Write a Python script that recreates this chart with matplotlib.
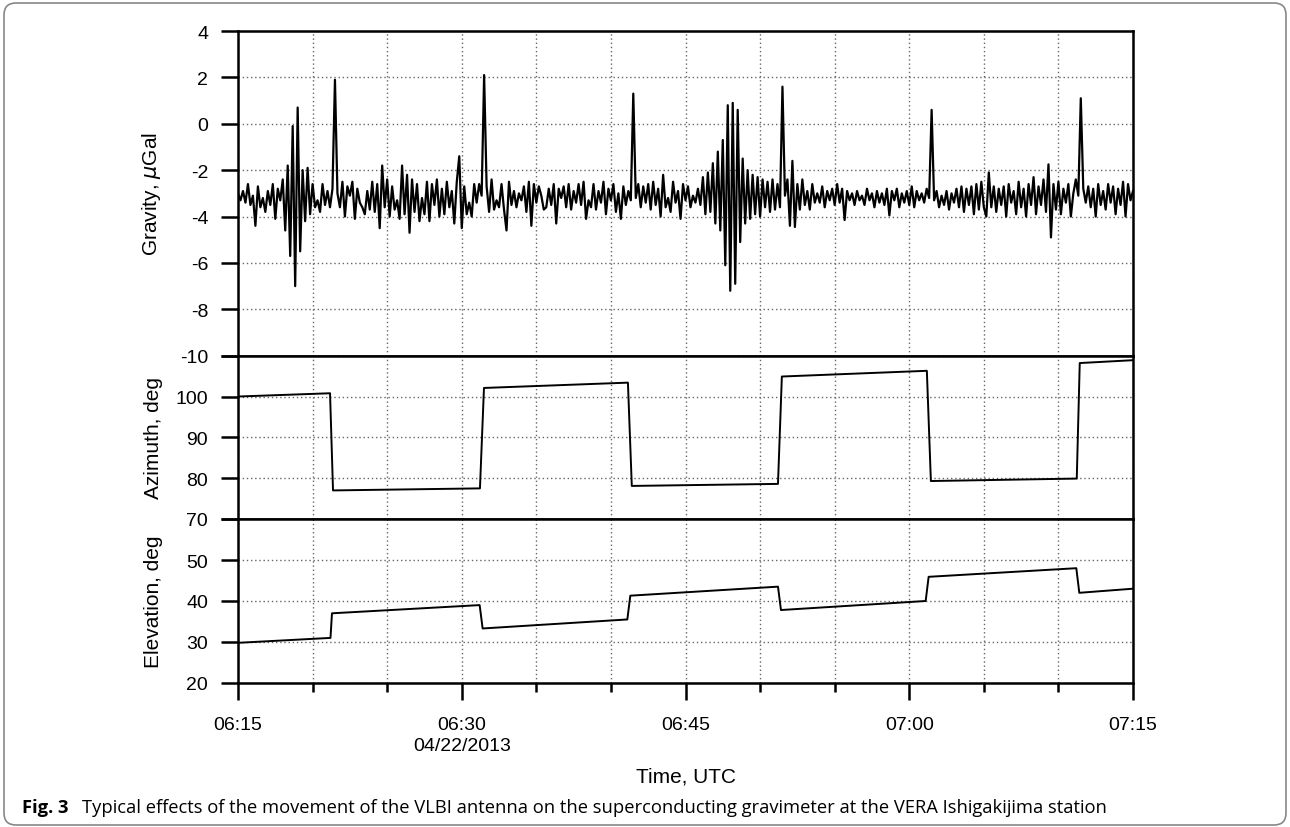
import matplotlib
matplotlib.use("Agg")
import matplotlib.pyplot as plt
import numpy as np
from matplotlib.patches import FancyBboxPatch
from matplotlib.transforms import IdentityTransform

# gravity residual, one value every 10 s from 06:15 (uGal)
gravity = [
    -3.0, -3.3, -2.9, -3.4, -2.6, -3.5,
    -3.1, -4.4, -2.7, -3.6, -3.2, -3.8,
    -2.9, -3.5, -2.6, -4.1, -2.8, -3.3,
    -2.4, -4.6, -1.8, -5.7, -0.1, -7.0,
    0.7, -5.5, -2.0, -4.2, -1.9, -3.9,
    -2.6, -3.6, -3.3, -3.8, -2.6, -3.5,
    -2.9, -3.6, -2.8, 1.9, -3.0, -3.6,
    -2.5, -4.0, -2.7, -3.1, -2.5, -4.1,
    -2.8, -3.4, -3.6, -3.9, -2.9, -3.7,
    -2.5, -3.8, -2.6, -4.5, -1.8, -3.6,
    -2.4, -4.0, -2.7, -3.7, -3.3, -4.1,
    -1.8, -3.9, -2.2, -4.7, -2.4, -3.8,
    -2.6, -4.2, -3.2, -3.9, -2.5, -4.2,
    -2.6, -3.5, -2.4, -4.0, -2.8, -3.9,
    -2.5, -3.6, -2.9, -4.3, -2.5, -1.4,
    -4.5, -2.7, -3.9, -3.4, -4.0, -2.6,
    -3.4, -2.6, -3.1, 2.1, -2.7, -3.8,
    -2.4, -3.7, -3.3, -3.6, -2.6, -3.7,
    -4.6, -2.5, -3.5, -2.9, -3.6, -3.0,
    -3.3, -2.7, -3.8, -2.5, -4.4, -2.6,
    -3.4, -2.7, -3.1, -3.7, -3.6, -2.8,
    -3.5, -2.6, -4.3, -2.8, -3.2, -2.7,
    -3.6, -2.6, -3.7, -2.9, -3.4, -2.6,
    -3.5, -2.5, -4.1, -3.3, -3.6, -2.6,
    -3.7, -2.9, -3.4, -2.5, -3.9, -2.8,
    -3.3, -2.6, -3.8, -3.0, -4.1, -2.7,
    -3.5, -2.9, -3.3, 1.3, -3.2, -2.6,
    -3.6, -2.7, -3.4, -2.6, -3.7, -2.5,
    -3.5, -2.8, -4.0, -2.2, -3.6, -3.2,
    -3.8, -2.5, -3.4, -2.9, -4.1, -2.6,
    -3.3, -2.7, -3.6, -3.1, -3.4, -2.8,
    -3.5, -2.3, -3.9, -2.1, -3.8, -1.7,
    -4.3, -1.2, -4.6, -0.7, -6.1, 0.8,
    -7.2, 0.9, -6.9, 0.6, -5.1, -1.5,
    -4.3, -2.0, -4.1, -2.2, -3.9, -2.3,
    -4.0, -2.4, -3.6, -2.5, -3.8, -2.4,
    -3.7, -2.6, -3.6, 1.6, -3.1, -2.4,
    -4.4, -1.6, -4.45, -2.6, -3.7, -2.4,
    -3.5, -2.9, -3.7, -2.6, -3.4, -3.0,
    -3.4, -2.7, -3.6, -2.9, -3.3, -2.8,
    -3.5, -2.6, -3.4, -2.8, -4.15, -2.9,
    -3.3, -3.0, -3.5, -2.9, -3.3, -3.1,
    -3.5, -2.8, -3.3, -3.0, -3.6, -2.9,
    -3.4, -3.0, -3.5, -2.8, -3.95, -2.9,
    -3.3, -2.8, -3.6, -3.0, -3.4, -2.9,
    -3.5, -2.7, -3.6, -2.9, -3.3, -3.0,
    -3.4, -2.8, -3.2, 0.6, -3.3, -2.9,
    -3.6, -3.1, -3.5, -2.9, -3.7, -3.0,
    -3.4, -2.8, -3.6, -2.7, -3.8, -2.8,
    -3.5, -2.7, -3.9, -2.6, -3.7, -2.5,
    -3.6, -4.0, -2.1, -3.6, -2.7, -3.8,
    -2.8, -3.5, -2.7, -4.0, -2.6, -3.4,
    -2.9, -3.9, -2.5, -3.6, -2.8, -4.0,
    -2.6, -3.5, -2.3, -3.9, -2.7, -3.5,
    -2.4, -3.8, -1.75, -4.9, -2.6, -3.7,
    -2.5, -3.9, -2.8, -3.4, -2.6, -4.0,
    -3.0, -2.4, -3.1, 1.1, -2.8, -3.4,
    -2.7, -3.6, -2.8, -4.0, -2.6, -3.5,
    -2.9, -3.7, -2.6, -3.4, -2.7, -3.9,
    -2.8, -3.5, -2.5, -4.0, -2.6, -3.3,
    -2.9,
]
grav_step_min = 10 / 60.0

# antenna pointing, breakpoints in minutes after 06:15
az_t = [0, 6.17, 6.37, 16.22, 16.49, 26.14, 26.4, 36.2, 36.46, 46.18, 46.45, 56.23, 56.43, 60]
az_v = [100.0, 100.8, 77.0, 77.5, 102.1, 103.4, 78.1, 78.6, 104.9, 106.3, 79.3, 79.9, 108.2, 108.9]
el_t = [0, 6.2, 6.3, 16.2, 16.4, 26.1, 26.3, 36.2, 36.4, 46.1, 46.3, 56.2, 56.4, 60]
el_v = [29.8, 31.0, 37.0, 39.0, 33.3, 35.5, 41.3, 43.5, 37.8, 40.0, 45.9, 48.0, 42.0, 43.0]

xtick_pos = [0, 15, 30, 45, 60]
xtick_labels = ["06:15", "06:30\n04/22/2013", "06:45", "07:00", "07:15"]

plt.rcParams["font.family"] = ["Liberation Sans", "DejaVu Sans"]
plt.rcParams["axes.unicode_minus"] = False

W, H = 1290, 828
L, R = 238, 1133
fig = plt.figure(figsize=(W / 100, H / 100), dpi=100)

def px_axes(top, bottom):
    return fig.add_axes([L / W, 1 - bottom / H, (R - L) / W, (bottom - top) / H])

ax_g = px_axes(32, 356.7)
ax_a = px_axes(356.7, 520)
ax_e = px_axes(520, 684)

t_grav = np.arange(len(gravity)) * grav_step_min
ax_g.plot(t_grav, gravity, color="black", lw=1.6)
ax_a.plot(az_t, az_v, color="black", lw=1.4)
ax_e.plot(el_t, el_v, color="black", lw=1.4)

ax_g.set_ylim(-10, 4)
ax_g.set_yticks(np.arange(-10, 5, 2))
ax_a.set_ylim(70, 110)
ax_a.set_yticks([70, 80, 90, 100, 110])
ax_a.set_yticklabels(["70", "80", "90", "100", ""])
ax_e.set_ylim(20, 60)
ax_e.set_yticks([20, 30, 40, 50, 60])
ax_e.set_yticklabels(["20", "30", "40", "50", ""])

ax_g.set_ylabel(r"Gravity, $\mu$Gal", fontsize=15)
ax_a.set_ylabel("Azimuth, deg", fontsize=15)
ax_e.set_ylabel("Elevation, deg", fontsize=15)
for ax in (ax_g, ax_a, ax_e):
    ax.yaxis.set_label_coords((163 - L) / (R - L), 0.5)

for ax in (ax_g, ax_a, ax_e):
    ax.set_xlim(0, 60)
    ax.set_xticks(np.arange(0, 61, 5))
    ax.grid(True, color="#666666", linestyle=(0, (1, 2)), linewidth=1.0)
    ax.tick_params(axis="y", direction="out", length=12.5, width=1.8, labelsize=14, pad=9)
    for s in ax.spines.values():
        s.set_linewidth(1.8)

for ax in (ax_g, ax_a):
    ax.tick_params(axis="x", length=0, labelbottom=False)

ax_e.set_xticks(xtick_pos)
ax_e.set_xticklabels(xtick_labels, linespacing=1.3)
ax_e.set_xticks(np.arange(5, 60, 5), minor=True)
ax_e.grid(True, which="minor", axis="x", color="#666666", linestyle=(0, (1, 2)), linewidth=1.0)
ax_e.tick_params(axis="x", which="major", direction="out", length=12.5, width=1.8, labelsize=14, pad=11)
ax_e.tick_params(axis="x", which="minor", direction="out", length=6.5, width=1.8)
ax_e.set_xlabel("Time, UTC", fontsize=15, labelpad=9)

# rounded frame around the whole figure
frame = FancyBboxPatch((4, 2), W - 8, H - 6, boxstyle="round,pad=0,rounding_size=12",
                       transform=IdentityTransform(), fill=False, edgecolor="#888888", lw=1.2)
fig.patches.append(frame)

cap_y = 1 - 813 / H
fig.text(22 / W, cap_y, "Fig. 3", fontsize=13.2, fontweight="bold",
         family=["Open Sans", "DejaVu Sans"], va="baseline", ha="left")
fig.text(82 / W, cap_y,
         "Typical effects of the movement of the VLBI antenna on the superconducting gravimeter at the VERA Ishigakijima station",
         fontsize=13.2, family=["Open Sans", "DejaVu Sans"], va="baseline", ha="left")

fig.savefig("out.png", dpi=100)
